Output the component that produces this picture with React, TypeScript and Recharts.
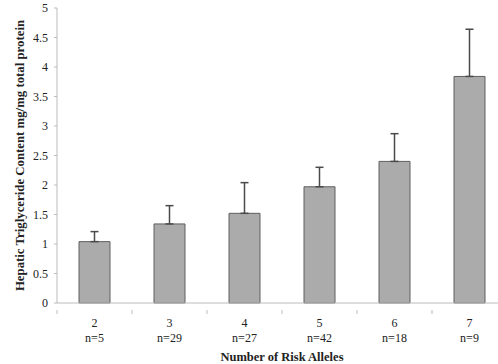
import React from "react";
import { BarChart, Bar, XAxis, YAxis, ErrorBar, Label } from "recharts";

// Hepatic triglyceride by number of risk alleles (mean + upper SE)
const alleles = ["2", "3", "4", "5", "6", "7"];
const sampleSizes = [5, 29, 27, 42, 18, 9];
const meanContent = [1.04, 1.34, 1.52, 1.97, 2.4, 3.84];
const upperError = [0.17, 0.31, 0.52, 0.33, 0.47, 0.8];
const yTicks = [0, 0.5, 1, 1.5, 2, 2.5, 3, 3.5, 4, 4.5, 5];

const data = alleles.map((a, i) => ({
  allele: a,
  n: sampleSizes[i],
  value: meanContent[i],
  err: [0, upperError[i]],
}));

const FONT = "'Liberation Serif', 'Times New Roman', serif";
const TEXT = "#222";
const BAND = 75; // width of one category slot

const AlleleTick = (props: any) => {
  const { x, y, payload, index } = props;
  const row = data[index];
  return (
    <g>
      <line x1={x - BAND / 2} y1={y - 1} x2={x - BAND / 2} y2={y + 3} stroke="#bbb" />
      {index === data.length - 1 && (
        <line x1={x + BAND / 2} y1={y - 1} x2={x + BAND / 2} y2={y + 3} stroke="#bbb" />
      )}
      <text
        x={x}
        y={y + 16}
        textAnchor="middle"
        fontFamily={FONT}
        fontSize={12}
        fill={TEXT}
      >
        {payload.value}
      </text>
      <text
        x={x}
        y={y + 31}
        textAnchor="middle"
        fontFamily={FONT}
        fontSize={12}
        fill={TEXT}
      >
        {`n=${row ? row.n : ""}`}
      </text>
    </g>
  );
};

export default function App() {
  return (
    <div
      style={{
        position: "fixed",
        left: 0,
        top: 0,
        width: 498,
        height: 364,
        overflow: "hidden",
        background: "#fff",
      }}
    >
      <BarChart
        width={510}
        height={364}
        data={data}
        margin={{ top: 8, right: 3, left: 0, bottom: 0 }}
      >
        <XAxis
          dataKey="allele"
          height={61}
          axisLine={{ stroke: "#bbb" }}
          tickLine={false}
          tick={<AlleleTick />}
          interval={0}
        >
          <Label
            value="Number of Risk Alleles"
            position="insideBottom"
            offset={3}
            style={{
              fontFamily: FONT,
              fontSize: 12.5,
              fontWeight: "bold",
              fill: TEXT,
            }}
          />
        </XAxis>
        <YAxis
          width={57}
          domain={[0, 5]}
          ticks={yTicks}
          interval={0}
          axisLine={{ stroke: "#bbb" }}
          tickLine={{ stroke: "#bbb" }}
          tickSize={3}
          tickMargin={6}
          tick={{ fontFamily: FONT, fontSize: 12, fill: TEXT }}
        >
          <Label
            value="Hepatic Triglyceride Content mg/mg total protein"
            angle={-90}
            position="insideLeft"
            offset={19}
            style={{
              textAnchor: "middle",
              fontFamily: FONT,
              fontSize: 12.8,
              fontWeight: "bold",
              fill: TEXT,
            }}
          />
        </YAxis>
        <Bar
          dataKey="value"
          barSize={31}
          fill="#ababab"
          stroke="#5e5e5e"
          strokeWidth={1}
          isAnimationActive={false}
        >
          <ErrorBar
            dataKey="err"
            width={4}
            stroke="#4a4a4a"
            strokeWidth={1.5}
            direction="y"
          />
        </Bar>
      </BarChart>
    </div>
  );
}
